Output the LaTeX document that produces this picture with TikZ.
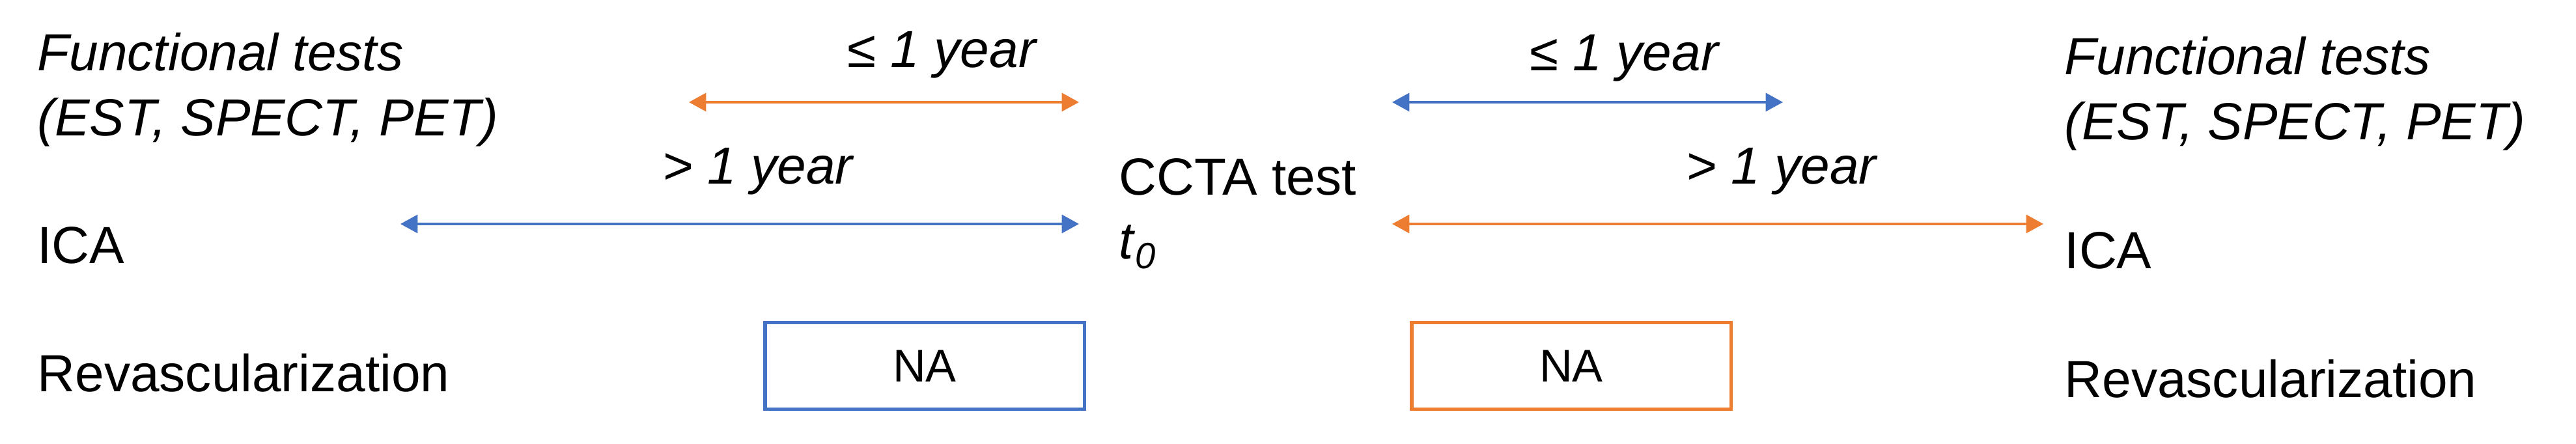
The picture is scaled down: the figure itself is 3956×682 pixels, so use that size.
\documentclass[tikz,border=0pt]{standalone}
\usepackage{fontspec}
\setmainfont{Liberation Sans}
\usetikzlibrary{arrows.meta}
\definecolor{myorange}{HTML}{ED7D31}
\definecolor{myblue}{HTML}{4472C4}
\tikzset{
  lbl/.style={anchor=base west, inner sep=0pt, font=\fontsize{22.8}{27}\selectfont},
  ilbl/.style={lbl, font=\fontsize{22.8}{27}\selectfont\itshape},
  span/.style={{Triangle[length=7.5pt,width=8pt]}-{Triangle[length=7.5pt,width=8pt]}, line width=0.9pt},
  nabox/.style={draw, line width=1.5pt, minimum width=4.9cm, minimum height=1.33cm, inner sep=0pt, font=\fontsize{20}{24}\selectfont}
}
\begin{document}
\begin{tikzpicture}[x=0.01cm,y=0.01cm]
\useasboundingbox (0,0) rectangle (3956,682);
% left labels
\node[ilbl] (lf1) at (57,573) {Functional tests};
\node[ilbl] (lf2) at (57,473) {(EST, SPECT, PET)};
\node[lbl] (lica) at (57,277) {ICA};
\node[lbl] (lrev) at (57,80) {Revascularization};
% right labels
\node[ilbl] (rf1) at (3170,567) {Functional tests};
\node[ilbl] (rf2) at (3170,467) {(EST, SPECT, PET)};
\node[lbl] (rica) at (3170,269) {ICA};
\node[lbl] (rrev) at (3170,71) {Revascularization};
% centre
\node[lbl] (ccta) at (1718,382) {CCTA test};
\node[lbl] (t0) at (1718,284) {\textit{t}\textsubscript{\textit{0}}};
% span labels
\node[ilbl] (l1) at (1301,578) {≤ 1 year};
\node[ilbl] (l2) at (1017,399) {> 1 year};
\node[ilbl] (r1) at (2349,573) {≤ 1 year};
\node[ilbl] (r2) at (2589,399) {> 1 year};
% arrows
\coordinate (a1s) at (1058,525); \coordinate (a1e) at (1657,525);
\coordinate (a2s) at (615,338);  \coordinate (a2e) at (1657,338);
\coordinate (b1s) at (2138,525); \coordinate (b1e) at (2738,525);
\coordinate (b2s) at (2138,338); \coordinate (b2e) at (3138,338);
\draw[span, myorange] (a1s) -- (a1e);
\draw[span, myblue] (a2s) -- (a2e);
\draw[span, myblue] (b1s) -- (b1e);
\draw[span, myorange] (b2s) -- (b2e);
% NA boxes
\node[nabox, draw=myblue] (na1) at (1420,120) {NA};
\node[nabox, draw=myorange] (na2) at (2413,120) {NA};
\end{tikzpicture}
\end{document}
